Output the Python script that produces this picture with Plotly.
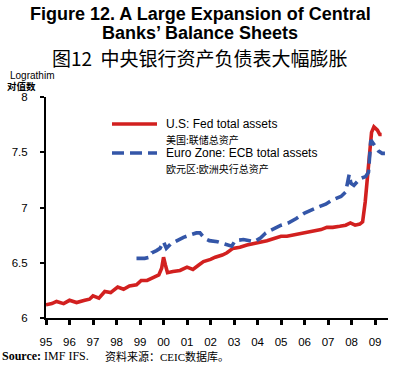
import plotly.graph_objects as go

# ---- data (decimal years, log values) ----
us_t = [1995.0, 1995.25, 1995.45, 1995.75, 1996.0, 1996.3, 1996.65, 1996.85, 1997.0, 1997.25,
        1997.5, 1997.75, 1998.05, 1998.3, 1998.55, 1998.85, 1999.05, 1999.3, 1999.6, 1999.8,
        1999.92, 2000.0, 2000.08, 2000.17, 2000.4, 2000.7, 2001.0, 2001.25, 2001.5, 2001.7,
        2002.0, 2002.2, 2002.5, 2002.7, 2002.95, 2003.25, 2003.55, 2003.8, 2004.1, 2004.4,
        2004.7, 2005.0, 2005.25, 2005.5, 2005.8, 2006.1, 2006.4, 2006.7, 2006.95, 2007.2,
        2007.5, 2007.75, 2007.95, 2008.15, 2008.35, 2008.47, 2008.58, 2008.72, 2008.85, 2008.95,
        2009.1, 2009.2, 2009.28]
us_v = [6.12, 6.13, 6.15, 6.13, 6.16, 6.14, 6.16, 6.17, 6.20, 6.18,
        6.24, 6.23, 6.28, 6.26, 6.29, 6.30, 6.34, 6.34, 6.37, 6.39,
        6.45, 6.55, 6.48, 6.41, 6.42, 6.43, 6.46, 6.44, 6.48, 6.51,
        6.53, 6.55, 6.57, 6.59, 6.63, 6.64, 6.66, 6.67, 6.69, 6.70,
        6.72, 6.74, 6.74, 6.75, 6.76, 6.78, 6.79, 6.80, 6.82, 6.82,
        6.83, 6.84, 6.86, 6.84, 6.85, 6.87, 7.05, 7.43, 7.68, 7.73,
        7.70, 7.66, 7.66]

ez_t = [1998.85, 1999.0, 1999.2, 1999.4, 1999.5, 1999.7, 1999.85, 2000.0, 2000.12, 2000.3,
        2000.55, 2000.85, 2001.1, 2001.4, 2001.55, 2001.75, 2001.95, 2002.3, 2002.6, 2002.9,
        2003.05, 2003.4, 2003.85, 2004.1, 2004.35, 2004.65, 2005.0, 2005.3, 2005.65, 2006.0,
        2006.3, 2006.65, 2006.9, 2007.2, 2007.55, 2007.75, 2007.9, 2007.97, 2008.1, 2008.35,
        2008.6, 2008.72, 2008.82, 2009.0, 2009.15, 2009.3, 2009.42]
ez_v = [6.54, 6.54, 6.54, 6.55, 6.59, 6.61, 6.63, 6.69, 6.63, 6.67,
        6.70, 6.73, 6.75, 6.77, 6.77, 6.72, 6.70, 6.69, 6.67, 6.65,
        6.70, 6.71, 6.69, 6.72, 6.77, 6.80, 6.84, 6.86, 6.90, 6.95,
        6.98, 7.01, 7.03, 7.07, 7.10, 7.14, 7.30, 7.22, 7.20, 7.26,
        7.28, 7.32, 7.61, 7.56, 7.51, 7.49, 7.49]

series_en = ["U.S: Fed total assets", "Euro Zone: ECB total assets"]
series_zh = ["美国:联储总资产", "欧元区:欧洲央行总资产"]

x_tick_vals = list(range(1995, 2010))
x_tick_text = ["95", "96", "97", "98", "99", "00", "01", "02", "03", "04", "05", "06", "07", "08", "09"]
y_tick_vals = [6, 6.5, 7, 7.5, 8]
y_tick_text = ["6", "6.5", "7", "7.5", "8"]

RED = "#d2201f"
BLUE = "#3456a8"
BLUE_DASH = "12px,6px"

W, H = 400, 374
ML, MR, MT, MB = 46, 12, 97, 56
PW, PH = W - ML - MR, H - MT - MB


def px(xp):
    return (xp - ML) / PW


def py(yp):
    return (H - yp - MB) / PH


def ann(text, x, y, size, family, xanchor="center", pad=1):
    return dict(text=text, x=px(x), y=py(y), xref="paper", yref="paper",
                showarrow=False, xanchor=xanchor, yanchor="middle", borderpad=pad,
                font=dict(size=size, family=family, color="black"))


SANS = "Liberation Sans, Arial, Noto Sans CJK SC"
CJK = "Noto Sans CJK SC"

fig = go.Figure()
fig.add_trace(go.Scatter(x=us_t, y=us_v, mode="lines", name=series_en[0],
                         line=dict(color=RED, width=3.6)))
fig.add_trace(go.Scatter(x=ez_t, y=ez_v, mode="lines", name=series_en[1],
                         line=dict(color=BLUE, width=3.6, dash=BLUE_DASH)))

# legend keys (drawn as paper-referenced shapes, legend rows at pixel y 124 / 153)
legend_rows = [(124, RED, "solid"), (153, BLUE, BLUE_DASH)]
shapes = [dict(type="line", xref="paper", yref="paper", x0=px(112), x1=px(157),
               y0=py(yy), y1=py(yy), line=dict(color=c, width=3.4, dash=d))
          for yy, c, d in legend_rows]

annotations = [
    ann("<b>Figure 12. A Large Expansion of Central</b>", 200, 14, 18, "Liberation Sans, Arial"),
    ann("<b>Banks’ Balance Sheets</b>", 200, 33, 18, "Liberation Sans, Arial"),
    ann("图12  中央银行资产负债表大幅膨胀", 200, 58, 19, CJK),
    ann("Lograthim", 9, 75.5, 10, SANS, "left", 0),
    ann("<b>对值数</b>", 6, 86, 9.5, CJK, "left", 0),
    ann("<b>Source:</b> IMF IFS.", 0, 356, 12, "Liberation Serif, Times New Roman", "left"),
    ann("资料来源：CEIC数据库。", 103, 356, 11, "Liberation Serif, " + CJK, "left"),
]
for i, (yy, c, d) in enumerate(legend_rows):
    annotations.append(ann(series_en[i], 164, yy, 12, SANS, "left"))
    annotations.append(ann(series_zh[i], 164, yy + 15.5, 10, CJK, "left"))

fig.update_layout(
    width=W, height=H,
    margin=dict(l=ML, r=MR, t=MT, b=MB),
    paper_bgcolor="white", plot_bgcolor="white",
    font=dict(family=SANS, color="black", size=11),
    showlegend=False,
    xaxis=dict(
        range=[1995, 2009.55], tickmode="array", tickvals=x_tick_vals, ticktext=x_tick_text,
        showgrid=False, zeroline=False, showline=True, linecolor="black", linewidth=2,
        ticks="outside", ticklen=5, tickwidth=2.5, tickcolor="black",
        tickfont=dict(size=11.5), ticklabelstandoff=7,
    ),
    yaxis=dict(
        range=[6, 8], tickmode="array", tickvals=y_tick_vals, ticktext=y_tick_text,
        showgrid=False, zeroline=False, showline=True, linecolor="black", linewidth=2,
        ticks="outside", ticklen=4, tickwidth=2, tickcolor="black",
        tickfont=dict(size=11.5), ticklabelstandoff=10,
    ),
    shapes=shapes,
    annotations=annotations,
)

fig.write_html("out.html", config={"displayModeBar": False},
               post_script="document.body.style.margin='0';")
